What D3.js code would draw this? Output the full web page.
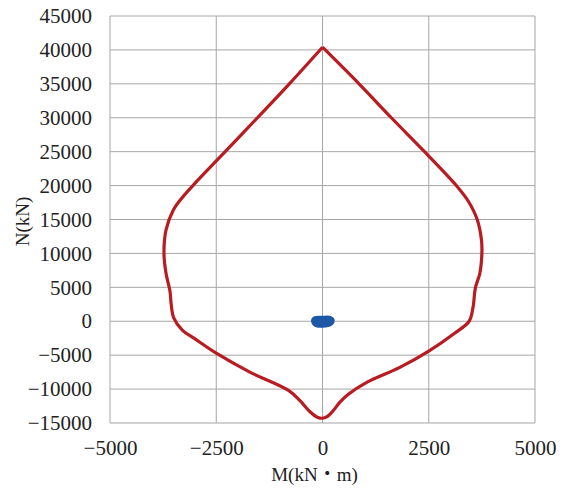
<!DOCTYPE html>
<html lang="ja">
<head>
  <meta charset="UTF-8">
  <script src="https://d3js.org/d3.v7.min.js"></script>
  <title>M-N Interaction</title>
  <style>
    body {
      margin: 0;
      background: #fff;
      font-family: "Liberation Serif", "Noto Sans CJK JP", serif;
    }
    .tick text {
      font-size: 21px;
      fill: #222;
    }
    .axis-title {
      font-size: 19px;
      fill: #222;
    }
  </style>
</head>
<body>
<script>
  // Tick values
  const xTicks = [-5000, -2500, 0, 2500, 5000];
  const yTicks = [-15000, -10000, -5000, 0, 5000, 10000, 15000, 20000, 25000, 30000, 35000, 40000, 45000];

  // Capacity curve (red): M in kN·m, N in kN, traced around from the apex
  const capM = [0, 860, 1620, 2400, 3150, 3420, 3640, 3740, 3750, 3700, 3600, 3540, 3450, 3100, 2500,
    1820, 1040, 600, 400, 250, 100, 0, -120, -300, -530, -800, -1710, -2490, -3000, -3300, -3500,
    -3560, -3590, -3680, -3730, -3680, -3510, -3350, -3050, -2290, -1530, -780, 0];
  const capN = [40400, 35000, 30000, 25000, 20000, 17800, 15000, 12000, 10000, 7000, 5000, 2000, 0, -1800, -4400,
    -6800, -9000, -10800, -12000, -13200, -14100, -14300, -14150, -13300, -11700, -10200, -7500, -4750, -2600, -1300, 500,
    2500, 4500, 7000, 10000, 13500, 16400, 17850, 20000, 25000, 30000, 35000, 40400];

  // Design loads (blue blob near the origin)
  const loadM = [-250, -200, 0, 200, 270, 220, 0, -200];
  const loadN = [200, 600, 700, 650, 200, -500, -850, -600];

  const width = 565, height = 495;
  const margin = { top: 16, right: 30, bottom: 72, left: 110 };

  const svg = d3.select("body").append("svg")
    .attr("width", width)
    .attr("height", height);

  const x = d3.scaleLinear().domain([-5000, 5000]).range([margin.left, width - margin.right]);
  const y = d3.scaleLinear().domain([-15000, 45000]).range([height - margin.bottom, margin.top]);

  const fmt = d3.format("d");

  // Gridlines
  svg.append("g")
    .selectAll("line")
    .data(yTicks)
    .enter().append("line")
    .attr("x1", x(-5000)).attr("x2", x(5000))
    .attr("y1", d => y(d)).attr("y2", d => y(d))
    .attr("stroke", "#a6a6a6")
    .attr("stroke-width", 1);

  svg.append("g")
    .selectAll("line")
    .data(xTicks)
    .enter().append("line")
    .attr("x1", d => x(d)).attr("x2", d => x(d))
    .attr("y1", y(-15000)).attr("y2", y(45000))
    .attr("stroke", "#a6a6a6")
    .attr("stroke-width", 1);

  // Axes (labels only)
  const yAxis = svg.append("g")
    .attr("transform", `translate(${margin.left},0)`)
    .call(d3.axisLeft(y).tickValues(yTicks).tickFormat(fmt).tickSize(0).tickPadding(18));
  yAxis.select(".domain").remove();

  const xAxis = svg.append("g")
    .attr("transform", `translate(0,${height - margin.bottom})`)
    .call(d3.axisBottom(x).tickValues(xTicks).tickFormat(fmt).tickSize(0).tickPadding(17));
  xAxis.select(".domain").remove();

  // drop the axis default sans-serif so the page font applies
  yAxis.attr("font-family", null).attr("font-size", null);
  xAxis.attr("font-family", null).attr("font-size", null);

  // Axis titles
  svg.append("text")
    .attr("class", "axis-title")
    .attr("x", x(0) - 8)
    .attr("y", 481)
    .attr("text-anchor", "middle")
    .text("M(kN・m)");

  svg.append("text")
    .attr("class", "axis-title")
    .attr("transform", `translate(29,${(y(-15000) + y(45000)) / 2 + 2}) rotate(-90)`)
    .attr("text-anchor", "middle")
    .text("N(kN)");

  // Capacity curve
  const capPts = capM.map((m, i) => [m, capN[i]]);
  svg.append("path")
    .datum(capPts)
    .attr("fill", "none")
    .attr("stroke", "#b81c22")
    .attr("stroke-width", 3.2)
    .attr("stroke-linejoin", "miter")
    .attr("d", d3.line().x(d => x(d[0])).y(d => y(d[1])).curve(d3.curveCatmullRom));

  // Load points blob
  const loadPts = loadM.map((m, i) => [m, loadN[i]]);
  svg.append("path")
    .datum(loadPts)
    .attr("fill", "#1d57a6")
    .attr("stroke", "#1d57a6")
    .attr("stroke-width", 1.5)
    .attr("d", d3.line().x(d => x(d[0])).y(d => y(d[1])).curve(d3.curveCatmullRomClosed));
</script>
</body>
</html>
